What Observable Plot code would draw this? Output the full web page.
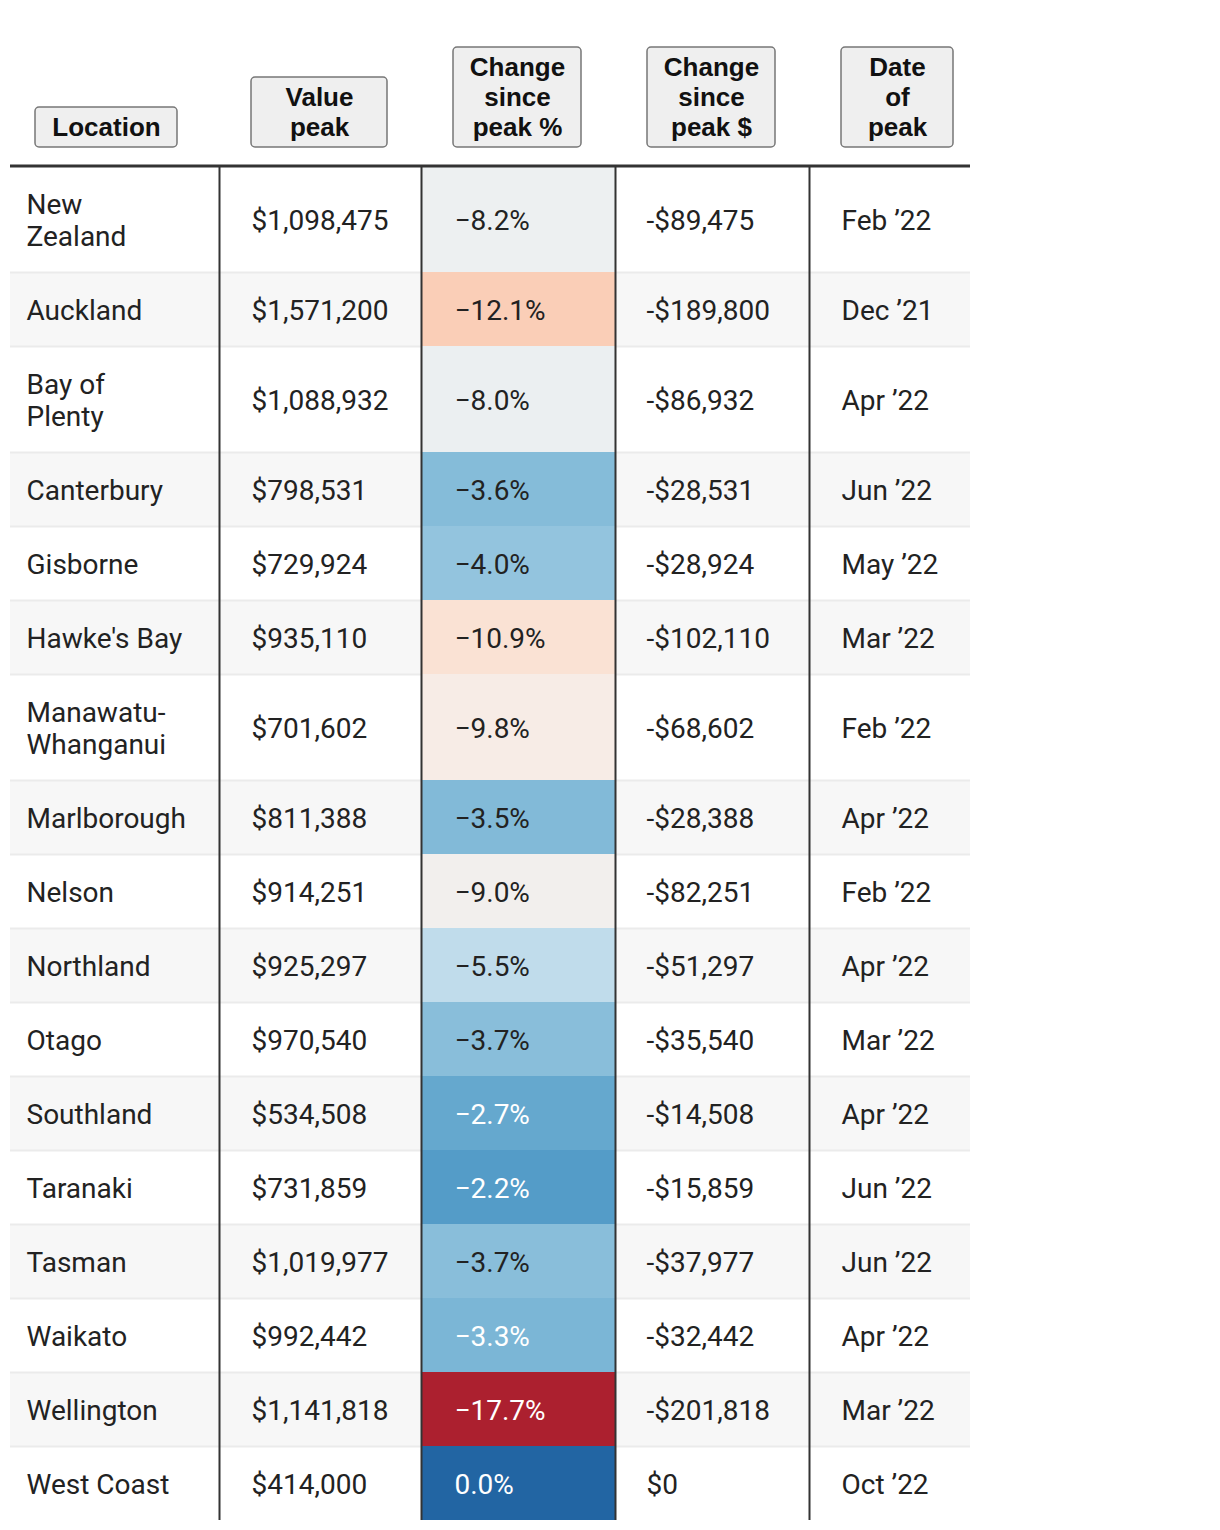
<!DOCTYPE html>
<html>
<head>
<meta charset="utf-8">
<script src="https://cdn.jsdelivr.net/npm/d3@7"></script>
<script src="https://cdn.jsdelivr.net/npm/@observablehq/plot@0.6"></script>
<style>
  html, body { margin: 0; padding: 0; background: #fff; }
  #chart svg { display: block; }
</style>
</head>
<body>
<div id="chart"></div>
<script>
// ---------- DATA ----------
const locations = ["New\nZealand", "Auckland", "Bay of\nPlenty", "Canterbury", "Gisborne", "Hawke's Bay",
  "Manawatu-\nWhanganui", "Marlborough", "Nelson", "Northland", "Otago", "Southland", "Taranaki",
  "Tasman", "Waikato", "Wellington", "West Coast"];
const valuePeak = [1098475, 1571200, 1088932, 798531, 729924, 935110, 701602, 811388, 914251,
  925297, 970540, 534508, 731859, 1019977, 992442, 1141818, 414000];
const changePct = [-8.2, -12.1, -8.0, -3.6, -4.0, -10.9, -9.8, -3.5, -9.0, -5.5, -3.7, -2.7, -2.2,
  -3.7, -3.3, -17.7, 0.0];
const changeDollar = [-89475, -189800, -86932, -28531, -28924, -102110, -68602, -28388, -82251,
  -51297, -35540, -14508, -15859, -37977, -32442, -201818, 0];
const peakDate = ["Feb ’22", "Dec ’21", "Apr ’22", "Jun ’22", "May ’22", "Mar ’22", "Feb ’22",
  "Apr ’22", "Feb ’22", "Apr ’22", "Mar ’22", "Apr ’22", "Jun ’22", "Jun ’22", "Apr ’22",
  "Mar ’22", "Oct ’22"];
const headers = ["Location", "Value\npeak", "Change\nsince\npeak %", "Change\nsince\npeak $", "Date\nof\npeak"];

// ---------- LAYOUT ----------
const W = 1220, H = 1530;
const colEdges = [10, 219, 421, 615, 809, 970];
const textInset = [16, 32, 33, 31, 32];
const headBoxLeft = [25, 32, 32, 32, 32];
const headBoxWidth = [142, 136, 128, 128, 112];
const headBoxBottom = 147, headLineH = 30, headPad = 5;
const headRuleY = 165.5;
const bodyTop = 166;
const rowBase = 42, rowLineH = 32;
const bodyFont = 28, headFont = 26;

// ---------- FORMAT ----------
const fmtComma = d3.format(",");
const fmtMoney = v => (v < 0 ? "-" : "") + "$" + fmtComma(Math.abs(v));
const fmtPct = v => d3.format(".1f")(v) + "%";

// ---------- ROWS ----------
let rowCursor = bodyTop;
const rows = locations.map((loc, i) => {
  const lines = loc.split("\n").length;
  const h = rowBase + rowLineH * lines;
  const r = {i, loc, pct: changePct[i], y1: rowCursor, y2: rowCursor + h, ym: rowCursor + h / 2};
  rowCursor += h;
  return r;
});
const bodyBottom = rowCursor;

const cells = [];
rows.forEach((r, i) => {
  const texts = [locations[i], fmtMoney(valuePeak[i]), fmtPct(changePct[i]), fmtMoney(changeDollar[i]), peakDate[i]];
  texts.forEach((t, c) => cells.push({c, i, text: t, x: colEdges[c] + textInset[c], y: r.ym, pct: changePct[i]}));
});

const [pMin, pMax] = d3.extent(changePct);
const pos = v => (v - pMin) / (pMax - pMin);
const isWhite = d => d.c === 2 && (pos(d.pct) > 0.805 || pos(d.pct) < 0.2);

// diverging ramp: RdBu restricted to [0.1, 0.9], gently eased around the centre
const rampEase = 1.2;
const ramp = t => {
  const u = 2 * t - 1;
  const w = Math.sign(u) * Math.pow(Math.abs(u), rampEase);
  return d3.interpolateRdBu(0.5 + 0.4 * w);
};

const heads = headers.map((h, c) => {
  const n = h.split("\n").length;
  const x1 = colEdges[c] + headBoxLeft[c];
  const x2 = x1 + headBoxWidth[c];
  const y2 = headBoxBottom;
  const y1 = y2 - (n * headLineH + 2 * headPad);
  return {text: h, x1, x2, y1, y2, xm: (x1 + x2) / 2, ym: (y1 + y2) / 2};
});

const chart = Plot.plot({
  width: W,
  height: H,
  margin: 0,
  x: {type: "linear", domain: [0, W], range: [0, W], axis: null},
  y: {type: "linear", domain: [0, H], range: [0, H], axis: null},
  color: {type: "linear", domain: [pMin, pMax], interpolate: ramp},
  style: {background: "#fff"},
  marks: [
    Plot.rect(rows.filter(r => r.i % 2 === 1), {x1: colEdges[0], x2: colEdges[5], y1: "y1", y2: "y2", fill: "#f7f7f7"}),
    Plot.ruleY(rows.slice(1), {y: "y1", x1: colEdges[0], x2: colEdges[5], stroke: "#ebebeb", strokeWidth: 2}),
    Plot.rect(rows, {x1: colEdges[2], x2: colEdges[3], y1: "y1", y2: "y2", fill: "pct"}),
    Plot.ruleX(colEdges.slice(1, 5), {y1: bodyTop, y2: bodyBottom, stroke: "#333", strokeWidth: 2}),
    Plot.ruleY([headRuleY], {x1: colEdges[0], x2: colEdges[5], stroke: "#333", strokeWidth: 3}),
    Plot.rect(heads, {x1: "x1", x2: "x2", y1: "y1", y2: "y2", fill: "#efefef", stroke: "#777", strokeWidth: 1.5, rx: 4}),
    Plot.text(heads, {x: "xm", y: "ym", text: "text", textAnchor: "middle", lineAnchor: "middle", dy: -1,
      fontSize: headFont, fontWeight: "bold", fontFamily: "'Liberation Sans', Arial, sans-serif",
      lineHeight: headLineH / headFont, fill: "#111"}),
    Plot.text(cells.filter(d => !isWhite(d)), {x: "x", y: "y", text: "text", textAnchor: "start", lineAnchor: "middle",
      fontSize: bodyFont, fontFamily: "Roboto, sans-serif", lineHeight: rowLineH / bodyFont, fill: "#222"}),
    Plot.text(cells.filter(isWhite), {x: "x", y: "y", text: "text", textAnchor: "start", lineAnchor: "middle",
      fontSize: bodyFont, fontFamily: "Roboto, sans-serif", lineHeight: rowLineH / bodyFont, fill: "#fff"})
  ]
});
document.getElementById("chart").appendChild(chart);
</script>
</body>
</html>
